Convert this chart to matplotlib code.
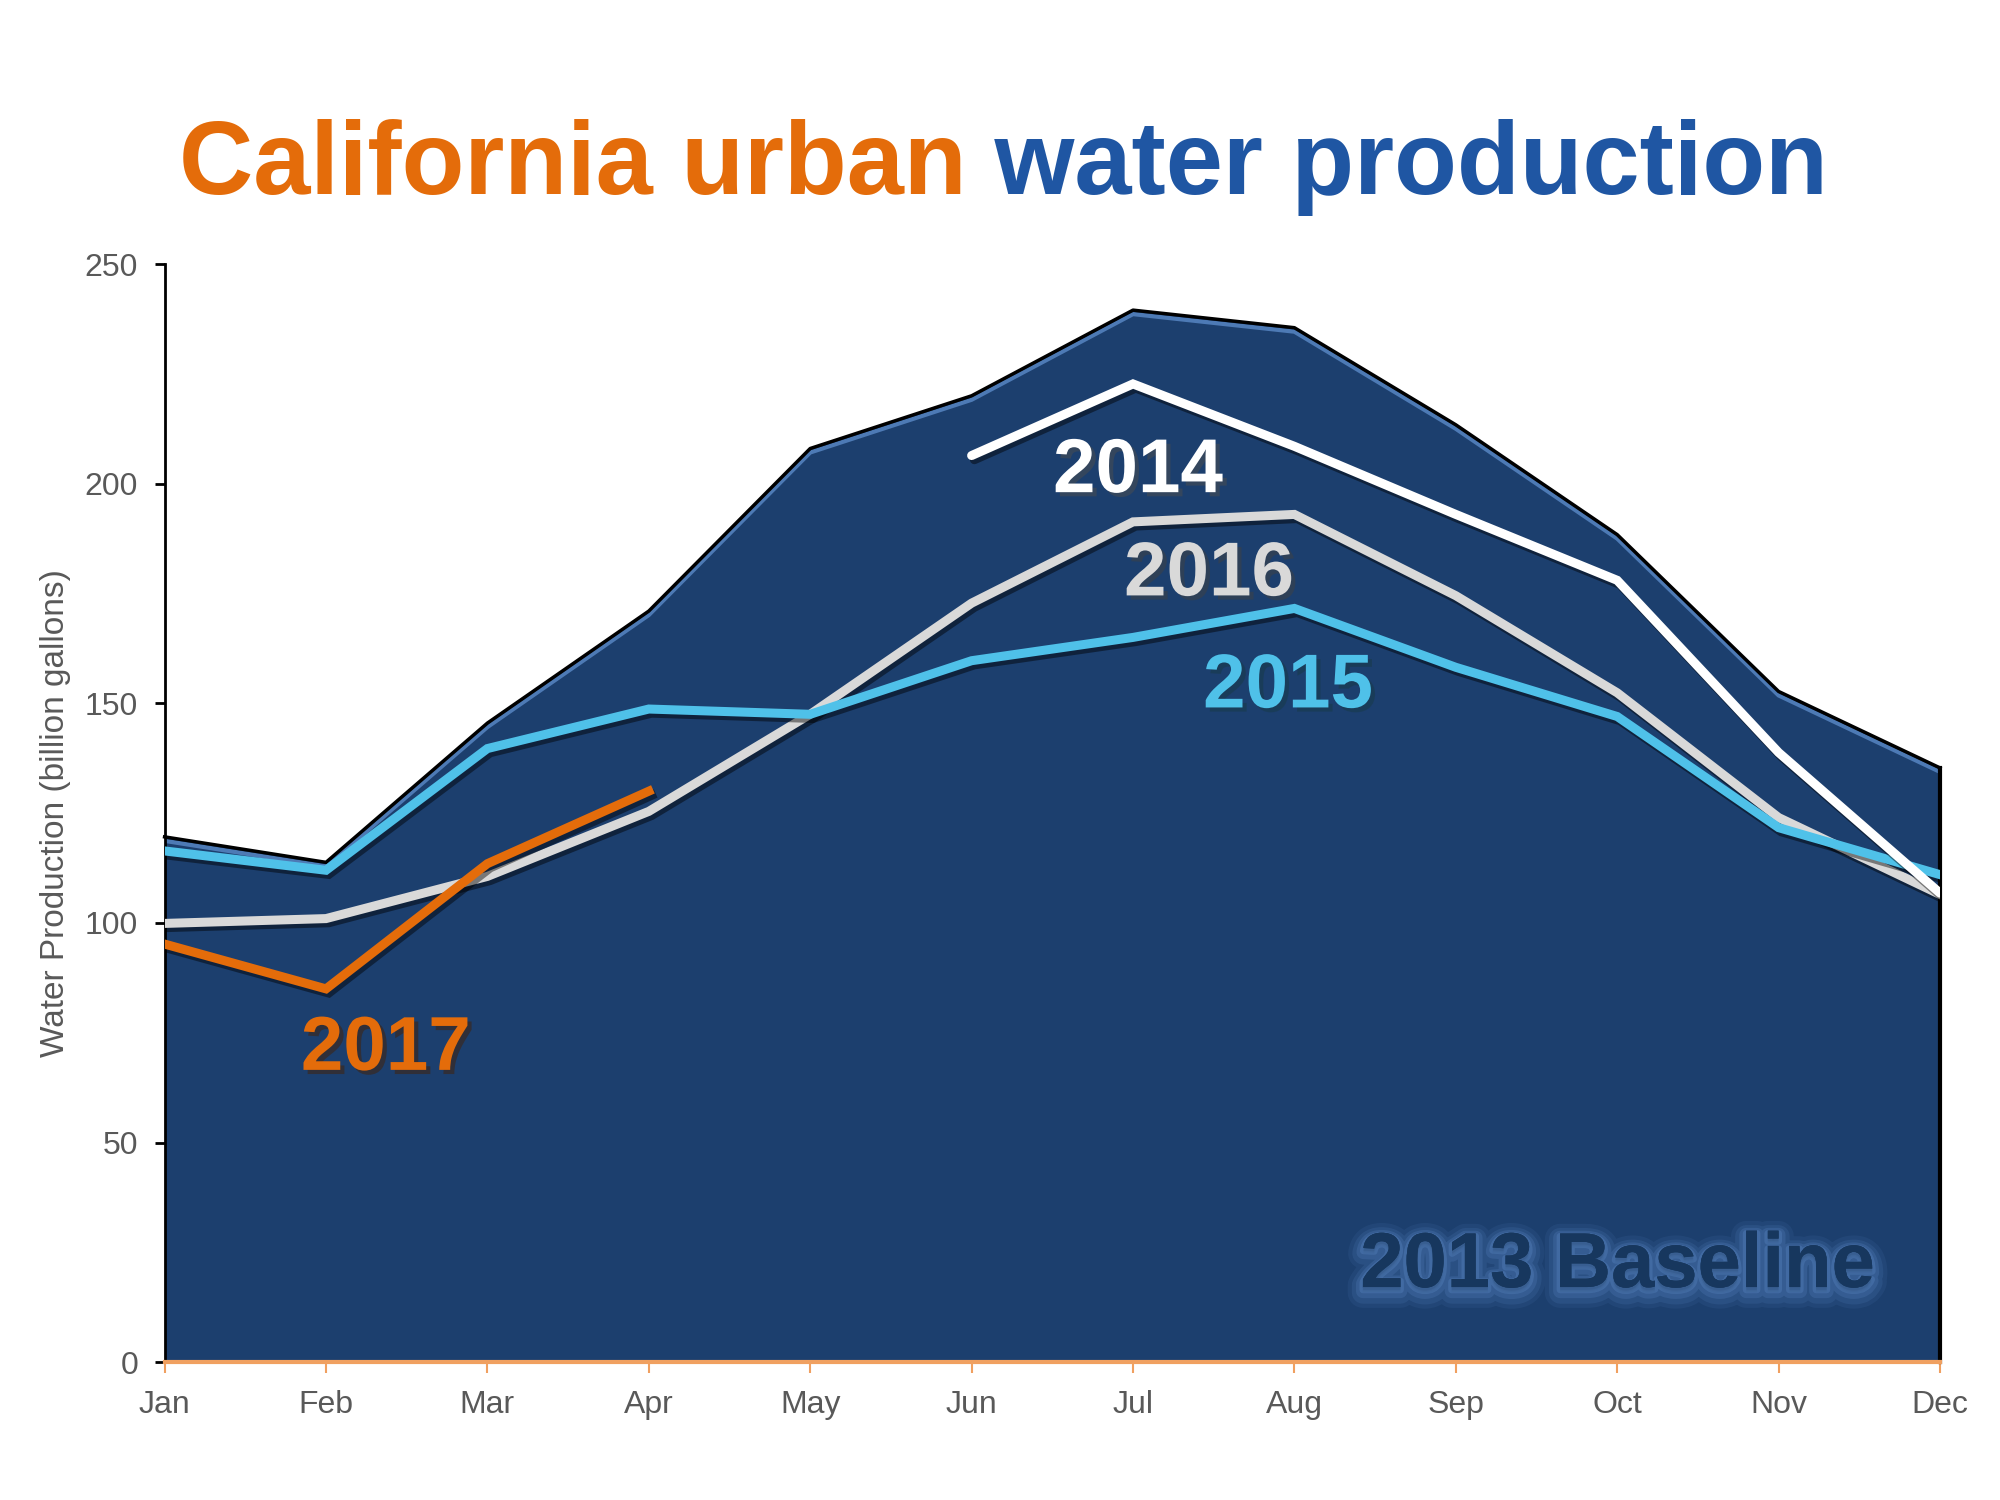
import matplotlib
matplotlib.use('Agg')
import matplotlib.pyplot as plt
import matplotlib.patheffects as pe
from matplotlib.transforms import offset_copy
import numpy as np

plt.rcParams['font.family'] = ['Liberation Sans', 'DejaVu Sans']

months = ['Jan', 'Feb', 'Mar', 'Apr', 'May', 'Jun', 'Jul', 'Aug', 'Sep', 'Oct', 'Nov', 'Dec']
baseline_2013 = [119.6, 113.8, 145.5, 171.0, 208.0, 220.0, 239.5, 235.5, 213.4, 188.4, 152.7, 135.3]
months_2014 = ['Jun', 'Jul', 'Aug', 'Sep', 'Oct', 'Nov', 'Dec']
values_2014 = [206.4, 222.7, 208.5, 193.0, 178.0, 138.8, 106.8]
values_2015 = [116.4, 112.0, 139.7, 148.7, 147.5, 159.7, 165.0, 171.6, 158.2, 147.0, 121.7, 111.0]
values_2016 = [99.9, 101.0, 110.6, 125.4, 147.5, 172.8, 191.3, 193.0, 174.5, 152.4, 124.0, 106.5]
months_2017 = ['Jan', 'Feb', 'Mar', 'Apr']
values_2017 = [95.2, 85.0, 113.5, 130.0]
y_ticks = [0, 50, 100, 150, 200, 250]

NAVY = '#1C3F6E'
ORANGE = '#E46C0A'
TBLUE = '#1F56A3'
C2015 = '#4FC1E9'
C2016 = '#D9D9D9'

fig = plt.figure(figsize=(20, 15), dpi=100)
ax = fig.add_axes([0.0823, 0.0918, 0.970 - 0.0823, 0.824 - 0.0918])

x = np.arange(len(months))
idx = {m: i for i, m in enumerate(months)}

# baseline area
ax.fill_between(x, 0, baseline_2013, color=NAVY, lw=0, zorder=1)
bevel = offset_copy(ax.transData, fig=fig, x=0, y=-4, units='dots')
ax.plot(x, baseline_2013, color='#4D7AB5', lw=3, transform=bevel, zorder=2, solid_joinstyle='round')
ax.plot(x, baseline_2013, color='black', lw=2.5, zorder=3, clip_on=False, solid_joinstyle='round')
ax.plot([x[-1], x[-1]], [0, baseline_2013[-1]], color='black', lw=3, zorder=3, clip_on=False)

shadow = [pe.SimpleLineShadow(offset=(2, -3), alpha=0.45, shadow_color='black'), pe.Normal()]
lw = 6.5
ax.plot([idx[m] for m in months_2014], values_2014, color='white', lw=lw, zorder=5,
        path_effects=shadow, solid_capstyle='round', solid_joinstyle='miter')
ax.plot(x, values_2016, color=C2016, lw=lw, zorder=4, path_effects=shadow, solid_joinstyle='miter')
ax.plot(x, values_2015, color=C2015, lw=lw, zorder=4.5, path_effects=shadow, solid_joinstyle='miter')
ax.plot([idx[m] for m in months_2017], values_2017, color=ORANGE, lw=lw, zorder=6,
        path_effects=shadow, solid_joinstyle='miter')

lab_fx = [pe.SimplePatchShadow(offset=(3, -3), alpha=0.5), pe.Normal()]
ax.text(6.03, 202.5, '2014', color='white', fontsize=55, fontweight='bold', ha='center', va='center',
        zorder=7, path_effects=lab_fx)
ax.text(6.47, 179.0, '2016', color=C2016, fontsize=55, fontweight='bold', ha='center', va='center',
        zorder=7, path_effects=lab_fx)
ax.text(6.96, 153.5, '2015', color=C2015, fontsize=55, fontweight='bold', ha='center', va='center',
        zorder=7, path_effects=lab_fx)
ax.text(1.37, 71.0, '2017', color=ORANGE, fontsize=55, fontweight='bold', ha='center', va='center',
        zorder=7, path_effects=lab_fx)
glow = '#5E8BC8'
ax.text(9.0, 21.8, '2013 Baseline', color='#17375E', fontsize=56, fontweight='bold', ha='center',
        va='center', zorder=7,
        path_effects=[pe.withStroke(linewidth=22, foreground=glow, alpha=0.1, offset=(0, -4)),
                      pe.withStroke(linewidth=16, foreground=glow, alpha=0.15, offset=(0, -4)),
                      pe.withStroke(linewidth=10, foreground=glow, alpha=0.22, offset=(0, -3)),
                      pe.withStroke(linewidth=5, foreground=glow, alpha=0.3, offset=(0, -2)),
                      pe.Normal()])

ax.set_xlim(0, 11)
ax.set_ylim(0, 250)
ax.set_xticks(x)
ax.set_xticklabels(months)
ax.set_yticks(y_ticks)
ax.set_yticklabels([str(v) for v in y_ticks])
for s in ['top', 'right']:
    ax.spines[s].set_visible(False)
ax.spines['left'].set_color('black')
ax.spines['left'].set_linewidth(2)
ax.spines['bottom'].set_color('#F0A060')
ax.spines['bottom'].set_linewidth(3)
ax.spines['bottom'].set_zorder(8)
ax.tick_params(axis='y', direction='out', length=7, width=2, color='black', labelsize=23,
               labelcolor='#595959', pad=12)
ax.tick_params(axis='x', direction='out', length=8, width=1.5, color='#F0A060', labelsize=23,
               labelcolor='#595959', pad=12)
ax.set_facecolor('white')
ax.set_ylabel('Water Production (billion gallons)', fontsize=24, color='#595959', labelpad=10)

t1 = fig.text(0.0893, 0.8707, 'California urban', fontsize=74, fontweight='bold', color=ORANGE,
              ha='left', va='baseline')
ax.annotate(' water production', xy=(1, 0), xycoords=t1, fontsize=74, fontweight='bold', color=TBLUE,
            ha='left', va='bottom', annotation_clip=False)

fig.savefig('out.png', dpi=100, facecolor='white')
